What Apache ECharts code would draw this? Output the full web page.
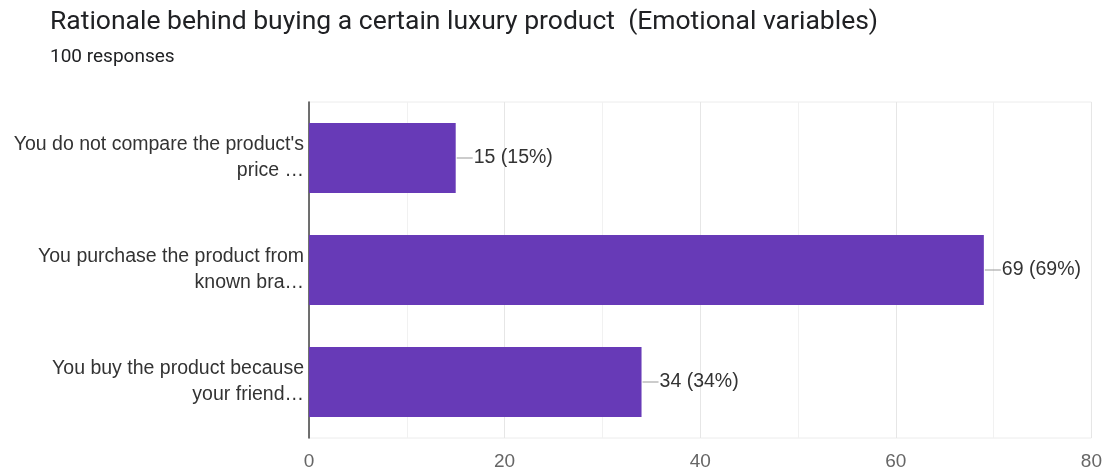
<!DOCTYPE html>
<html>
<head>
<meta charset="utf-8">
<style>
  html, body { margin: 0; padding: 0; background: #fff; }
  #chart { width: 1105px; height: 472px; }
</style>
<script src="https://cdn.jsdelivr.net/npm/echarts@6/dist/echarts.min.js"></script>
</head>
<body>
<div id="chart"></div>
<script>
// Survey answers (top to bottom) and their response counts
const categories = [
  "You do not compare the product's\nprice …",
  "You purchase the product from\nknown bra…",
  "You buy the product because\nyour friend…"
];
const counts = [15, 69, 34];
const totalResponses = 100;
const xTicks = [0, 20, 40, 60, 80];

const chart = echarts.init(document.getElementById('chart'), null, { renderer: 'canvas' });

const labelFont = '"Liberation Sans", Arial, sans-serif';

chart.setOption({
  animation: false,
  title: {
    text: 'Rationale behind buying a certain luxury product  (Emotional variables)',
    subtext: totalResponses + ' responses',
    left: 45,
    top: 4,
    itemGap: 12,
    textStyle: { fontFamily: 'Roboto, "Open Sans", sans-serif', fontSize: 26.5, fontWeight: 'normal', color: '#202124' },
    subtextStyle: { fontFamily: 'Roboto, "Open Sans", sans-serif', fontSize: 19, color: '#202124' }
  },
  grid: {
    left: 309, right: 12, top: 102, bottom: 34,
    show: true, borderColor: '#ececec', borderWidth: 1
  },
  xAxis: {
    type: 'value',
    min: xTicks[0],
    max: xTicks[xTicks.length - 1],
    interval: 20,
    axisLine: { show: false },
    axisTick: { show: false },
    axisLabel: { color: '#666', fontSize: 19, fontFamily: labelFont, margin: 14 },
    splitLine: { lineStyle: { color: '#e6e6e6' } },
    minorTick: { show: false, splitNumber: 2 },
    minorSplitLine: { show: true, lineStyle: { color: '#f1f1f1' } }
  },
  yAxis: {
    type: 'category',
    inverse: true,
    data: categories,
    axisLine: { show: true, lineStyle: { color: '#444', width: 1.5 } },
    axisTick: { show: false },
    axisLabel: {
      color: '#333', fontSize: 19.5, fontFamily: labelFont, margin: 5,
      lineHeight: 26, align: 'right'
    }
  },
  series: [
    {
      type: 'bar',
      data: counts,
      barCategoryGap: '37.5%',
      itemStyle: { color: '#673ab7' },
      label: {
        show: true,
        position: 'right',
        distance: 18,
        color: '#333',
        fontSize: 19.5,
        fontFamily: labelFont,
        formatter: p => p.value + ' (' + Math.round(p.value / totalResponses * 100) + '%)'
      },
      z: 3
    },
    {
      // short leader lines joining each bar end to its value label
      type: 'custom',
      silent: true,
      data: counts.map((v, i) => [v, i]),
      encode: { x: 0, y: 1 },
      renderItem: function (params, api) {
        const pt = api.coord([api.value(0), api.value(1)]);
        return {
          type: 'line',
          shape: { x1: pt[0] + 1, y1: pt[1], x2: pt[0] + 17, y2: pt[1] },
          style: { stroke: '#999', lineWidth: 1 }
        };
      },
      z: 4
    }
  ]
});
</script>
</body>
</html>
